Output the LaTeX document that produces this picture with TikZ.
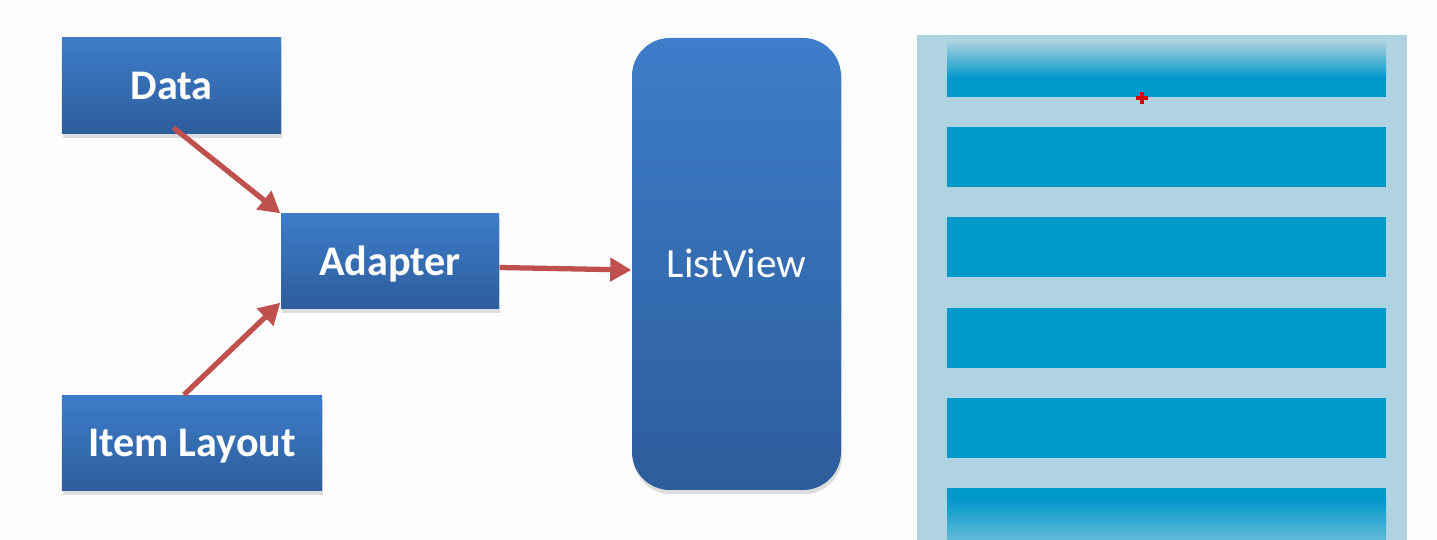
\documentclass[tikz,border=0pt]{standalone}
\usepackage{fontspec}
\setmainfont{Carlito}
\usetikzlibrary{arrows.meta,shadows}
\definecolor{bgc}{HTML}{FCFDFC}
\definecolor{boxtop}{HTML}{3D7DC9}
\definecolor{boxbot}{HTML}{2D5D9C}
\definecolor{arr}{HTML}{C0504D}
\definecolor{panel}{HTML}{AFD3E0}
\definecolor{stripe}{HTML}{0099CC}
\tikzset{
  bluebox/.style={rectangle, top color=boxtop, bottom color=boxbot, draw=none,
    text=white, font=\fontsize{12pt}{14pt}\selectfont\bfseries,
    text height=9.8pt, text depth=2pt,
    drop shadow={shadow xshift=0.3pt, shadow yshift=-1.2pt, opacity=0.25},
    inner sep=0pt},
  listbox/.style={rectangle, rounded corners=0.38cm, top color=boxtop, bottom color=boxbot,
    draw=none, text=white, font=\fontsize{11.8pt}{14pt}\selectfont,
    text height=9.5pt, text depth=2pt,
    drop shadow={shadow xshift=0.3pt, shadow yshift=-1.2pt, opacity=0.25},
    inner sep=0pt},
  flow/.style={draw=arr, line width=1.5pt, -{Triangle[length=6pt,width=6.5pt]}},
  stripebar/.style={fill=stripe, draw=none},
}
\begin{document}
\begin{tikzpicture}
\useasboundingbox (0,0) rectangle (14.37,5.40);
\fill[bgc] (0,0) rectangle (14.37,5.40);

% left diagram
\node[bluebox, minimum width=2.19cm, minimum height=0.96cm] (data) at (1.715,4.54) {Data};
\node[bluebox, minimum width=2.18cm, minimum height=0.95cm] (adapter) at (3.90,2.785) {Adapter};
\node[bluebox, minimum width=2.60cm, minimum height=0.95cm] (item) at (1.92,0.97) {Item Layout};
\node[listbox, minimum width=2.09cm, minimum height=4.52cm] (list) at (7.365,2.76) {ListView};

\draw[flow] ([xshift=0.02cm,yshift=0.07cm]data.south) -- (adapter.north west);
\draw[flow] ([xshift=-0.08cm]item.north) -- ([yshift=0.07cm]adapter.south west);
\draw[flow] ([yshift=-0.06cm]adapter.east) -- ([yshift=-0.06cm]list.west);

% right list mock-up
\fill[panel] (9.17,0) rectangle (14.07,5.05);
\shade[top color=panel, bottom color=stripe] (9.47,5.00) rectangle (13.86,4.62);
\fill[stripebar] (9.47,4.63) rectangle (13.86,4.43);
\fill[stripebar] (9.47,4.13) rectangle (13.86,3.53);
\fill[stripebar] (9.47,3.23) rectangle (13.86,2.63);
\fill[stripebar] (9.47,2.32) rectangle (13.86,1.72);
\fill[stripebar] (9.47,1.42) rectangle (13.86,0.82);
\fill[stripebar] (9.47,0.52) rectangle (13.86,0.40);
\shade[top color=stripe, bottom color=stripe!45!panel] (9.47,0.41) rectangle (13.86,0);

% cursor mark
\draw[red!85!black, line width=1.2pt] (11.36,4.42) -- (11.48,4.42) (11.42,4.36) -- (11.42,4.48);
\end{tikzpicture}
\end{document}
